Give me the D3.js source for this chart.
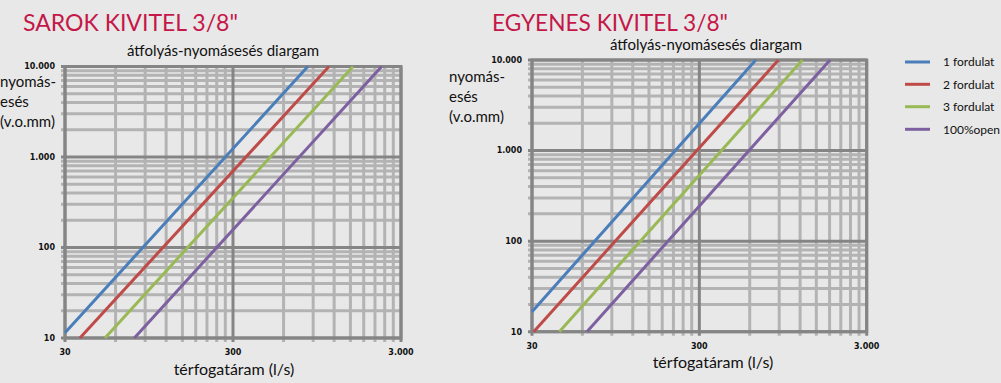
<!DOCTYPE html>
<html>
<head>
<meta charset="utf-8">
<script src="https://cdn.jsdelivr.net/npm/d3@7"></script>
<style>
  body { margin: 0; background: #e8e8e8; }
  svg { display: block; font-family: Lato, "Open Sans", sans-serif; }
</style>
</head>
<body>
<script>
// values (flow l/s -> pressure drop v.o.mm)
const flowTicks = [30, 300, 3000];
const flowTickLabels = ["30", "300", "3.000"];
const pressureTicks = [10, 100, 1000, 10000];
const pressureTickLabels = ["10", "100", "1.000", "10.000"];
const seriesNames = ["1 fordulat", "2 fordulat", "3 fordulat", "100%open"];
const seriesColors = ["#4a7ebb", "#be4b48", "#98b954", "#7d60a0"];

// each series: [start flow, end flow] and [start pressure, end pressure]
const sarokFlow = [[30, 837], [36.8, 1118], [51.9, 1554], [77.6, 2301]];
const sarokPressure = [[11.4, 10000], [10, 10000], [10, 10000], [10, 10000]];
const egyenesFlow = [[30, 652], [30.7, 890], [43.7, 1239], [63.9, 1812]];
const egyenesPressure = [[16.6, 10000], [10, 10000], [10, 10000], [10, 10000]];

const svg = d3.select("body").append("svg")
  .attr("width", 1001)
  .attr("height", 383)

svg.append("rect")
  .attr("width", 1001)
  .attr("height", 383)
  .attr("fill", "#e8e8e8")

// minor grid values for an excel style log axis
const minorSteps = (start, end) => {
  let out = []
  let base = start
  while (base < end) {
    for (let k = 2; k < 10; k++) out.push(base * k)
    base = base * 10
  }
  return out
}

const drawChart = (opt) => {
  const x = d3.scaleLog().domain([30, 3000]).range([opt.left, opt.right])
  const y = d3.scaleLog().domain([10, 10000]).range([opt.bottom, opt.top])

  svg.append("text")
    .attr("x", opt.titleX)
    .attr("y", 31)
    .attr("font-size", 24)
    .attr("textLength", opt.titleW)
    .attr("lengthAdjust", "spacingAndGlyphs")
    .attr("fill", "#c41848")
    .text(opt.title)

  svg.append("text")
    .attr("x", opt.subX)
    .attr("y", opt.subY)
    .attr("text-anchor", "middle")
    .attr("font-size", 15)
    .attr("fill", "#111")
    .text("átfolyás-nyomásesés diargam")

  const grid = svg.append("g")

  // minor lines first, then majors on top
  const xMinor = minorSteps(30, 3000)
  const yMinor = minorSteps(10, 10000)

  grid.selectAll(".vminor").data(xMinor).join("line")
    .attr("x1", d => x(d)).attr("x2", d => x(d))
    .attr("y1", opt.top).attr("y2", opt.bottom + 4)
    .attr("stroke", "#b3b3b3").attr("stroke-width", 3)

  grid.selectAll(".hminor").data(yMinor).join("line")
    .attr("y1", d => y(d)).attr("y2", d => y(d))
    .attr("x1", opt.left - 4).attr("x2", opt.right)
    .attr("stroke", "#b3b3b3").attr("stroke-width", 3)

  grid.selectAll(".vmajor").data(flowTicks).join("line")
    .attr("x1", d => x(d)).attr("x2", d => x(d))
    .attr("y1", opt.top).attr("y2", opt.bottom + 4)
    .attr("stroke", "#858585").attr("stroke-width", 3)

  grid.selectAll(".hmajor").data(pressureTicks).join("line")
    .attr("y1", d => y(d)).attr("y2", d => y(d))
    .attr("x1", opt.left - 4).attr("x2", opt.right)
    .attr("stroke", "#858585").attr("stroke-width", 3)

  grid.append("rect")
    .attr("x", opt.left).attr("y", opt.top)
    .attr("width", opt.right - opt.left)
    .attr("height", opt.bottom - opt.top)
    .attr("fill", "none")
    .attr("stroke", "#858585").attr("stroke-width", 3)

  // tick labels
  svg.selectAll(null).data(pressureTicks).join("text")
    .attr("x", opt.left - 10)
    .attr("y", d => y(d))
    .attr("dy", "0.35em")
    .attr("text-anchor", "end")
    .attr("font-family", "DejaVu Sans")
    .attr("font-weight", "bold")
    .attr("font-size", 8)
    .attr("fill", "#111")
    .text((d, i) => pressureTickLabels[i])

  svg.selectAll(null).data(flowTicks).join("text")
    .attr("x", d => x(d))
    .attr("y", opt.bottom + opt.xLabelOff)
    .attr("dy", "0.35em")
    .attr("text-anchor", "middle")
    .attr("font-family", "DejaVu Sans")
    .attr("font-weight", "bold")
    .attr("font-size", 8)
    .attr("fill", "#111")
    .text((d, i) => flowTickLabels[i])

  // axis titles
  const yTitle = ["nyomás-", "esés", "(v.o.mm)"]
  svg.selectAll(null).data(yTitle).join("text")
    .attr("x", opt.yTitleX)
    .attr("y", (d, i) => opt.yTitleY + i * 20)
    .attr("font-size", 15)
    .attr("fill", "#111")
    .text(d => d)

  svg.append("text")
    .attr("x", opt.xTitleX)
    .attr("y", opt.xTitleY)
    .attr("text-anchor", "middle")
    .attr("font-size", 16)
    .attr("fill", "#111")
    .text("térfogatáram (l/s)")

  // series lines
  const line = d3.line()
    .x(d => x(d[0]))
    .y(d => y(d[1]))

  opt.flow.forEach((f, i) => {
    const pts = f.map((v, j) => [v, opt.pressure[i][j]])
    svg.append("path")
      .datum(pts)
      .attr("fill", "none")
      .attr("stroke", seriesColors[i])
      .attr("stroke-width", 3)
      .attr("d", line)
  })
}

drawChart({
  title: "SAROK KIVITEL 3/8\"", titleX: 23, titleW: 215,
  subX: 223, subY: 56,
  left: 65, right: 401, top: 66.5, bottom: 338,
  xLabelOff: 14,
  yTitleX: 0, yTitleY: 87,
  xTitleX: 234, xTitleY: 375,
  flow: sarokFlow, pressure: sarokPressure
})

drawChart({
  title: "EGYENES KIVITEL 3/8\"", titleX: 492, titleW: 236,
  subX: 706, subY: 50,
  left: 532, right: 866.7, top: 60, bottom: 331.7,
  xLabelOff: 14,
  yTitleX: 449, yTitleY: 82,
  xTitleX: 713, xTitleY: 368,
  flow: egyenesFlow, pressure: egyenesPressure
})

// legend
const legendY = [62, 84.3, 106.7, 129.3]
const legend = svg.append("g")
seriesNames.forEach((name, i) => {
  legend.append("line")
    .attr("x1", 905).attr("x2", 930)
    .attr("y1", legendY[i]).attr("y2", legendY[i])
    .attr("stroke", seriesColors[i])
    .attr("stroke-width", 3)
  legend.append("text")
    .attr("x", 943)
    .attr("y", legendY[i])
    .attr("dy", "0.35em")
    .attr("font-size", 12)
    .attr("fill", "#111")
    .text(name)
})
</script>
</body>
</html>
